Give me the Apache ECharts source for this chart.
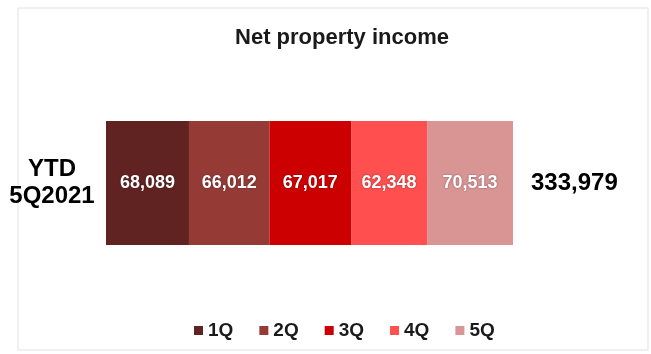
<!DOCTYPE html>
<html>
<head>
<meta charset="utf-8">
<script src="https://cdn.jsdelivr.net/npm/echarts@6/dist/echarts.min.js"></script>
<style>
  html, body { margin: 0; padding: 0; background: #fff; }
  #chart { width: 651px; height: 354px; }
</style>
</head>
<body>
<div id="chart"></div>
<script>
// Net property income, year to date, split by quarter
const quarters = ['1Q', '2Q', '3Q', '4Q', '5Q'];
const quarterValues = [68089, 66012, 67017, 62348, 70513];
const quarterColors = ['#612322', '#963a36', '#cc0000', '#ff4f4f', '#d99494'];
const periodLabel = ['YTD\n5Q2021'];
const chartTitle = 'Net property income';

const total = quarterValues.reduce((a, b) => a + b, 0);
const fmt = v => v.toLocaleString('en-US');
const font = 'Arial, "Liberation Sans", sans-serif';

const series = quarters.map((q, i) => ({
  name: q,
  type: 'bar',
  stack: 'ytd',
  barWidth: 124,
  data: [quarterValues[i]],
  itemStyle: { color: quarterColors[i] },
  label: {
    show: true,
    position: 'inside',
    formatter: p => fmt(p.value),
    color: '#ffffff',
    fontFamily: font,
    fontWeight: 'bold',
    fontSize: 18,
    textShadowColor: 'rgba(0,0,0,0.45)',
    textShadowBlur: 2
  }
}));

const chart = echarts.init(document.getElementById('chart'), null, { renderer: 'canvas' });
chart.setOption({
  animation: false,
  backgroundColor: '#ffffff',
  title: {
    text: chartTitle,
    left: 337,
    textAlign: 'center',
    top: 22,
    textStyle: { fontFamily: font, fontWeight: 'bold', fontSize: 22, color: '#1a1a1a' }
  },
  graphic: [{
    type: 'rect',
    shape: { x: 18, y: 8, width: 630, height: 342 },
    style: { fill: 'none', stroke: '#ececec', lineWidth: 1.5 },
    silent: true
  }],
  legend: {
    data: quarters,
    left: 189,
    top: 316,
    icon: 'rect',
    itemWidth: 9,
    itemHeight: 9,
    itemGap: 26,
    textStyle: { fontFamily: font, fontWeight: 'bold', fontSize: 19, color: '#1a1a1a' }
  },
  grid: { left: 106, right: 138, top: 121, bottom: 109 },
  xAxis: { type: 'value', min: 0, max: total, show: false },
  yAxis: [{
    type: 'category',
    data: periodLabel,
    axisLine: { show: false },
    axisTick: { show: false },
    axisLabel: {
      align: 'center',
      margin: 54,
      fontFamily: font,
      fontWeight: 'bold',
      fontSize: 24,
      lineHeight: 27,
      color: '#000000'
    }
  }, {
    type: 'category',
    position: 'right',
    data: [fmt(total)],
    axisLine: { show: false },
    axisTick: { show: false },
    axisLabel: {
      align: 'left',
      margin: 18,
      fontFamily: font,
      fontWeight: 'bold',
      fontSize: 24,
      color: '#000000'
    }
  }],
  series: series
});
</script>
</body>
</html>
